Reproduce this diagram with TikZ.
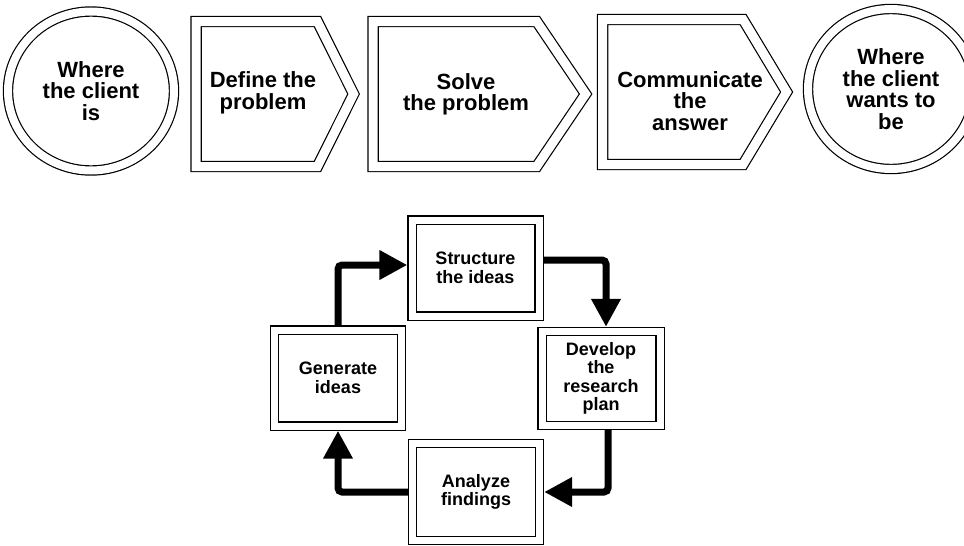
\documentclass[tikz,border=0pt]{standalone}
\usepackage{fontspec}
\setmainfont{Liberation Sans}
\usetikzlibrary{arrows.meta,shapes.geometric,shapes.symbols}

\begin{document}
\begin{tikzpicture}[
  x=1pt,
  y=-1pt,
  >={Triangle[length=28pt,width=28pt]},
  bigtext/.style={font=\fontsize{22}{21.5}\selectfont\bfseries,align=center,inner sep=0pt},
  smalltext/.style={font=\fontsize{18}{18.5}\selectfont\bfseries,align=center},
  client/.style={draw,ellipse,double,double distance=8pt,line width=1.2pt,inner sep=0pt},
  stage/.style={draw,signal,signal to=east,double,double distance=9pt,line width=1.2pt,inner sep=0pt,minimum height=145pt,anchor=west},
  task/.style={draw,rectangle,double,double distance=7pt,line width=1.2pt,minimum width=127pt,minimum height=96pt,outer sep=4.7pt,smalltext},
  flow/.style={->,line width=7pt,rounded corners=4pt}
]
\useasboundingbox (0,0) rectangle (964,546);

% Top row
\node[client,minimum width=166pt,minimum height=159pt,bigtext] (start) at (91,91) {Where\\the client\\is};

\node[stage,minimum width=157.5pt,signal pointer angle=127] (define) at (195.5,94) {};
\node[bigtext] (define-text) at (263,93) {Define the\\problem};

\node[stage,minimum width=212.5pt,signal pointer angle=112] (solve) at (372.5,94) {};
\node[bigtext] (solve-text) at (466,94.5) {Solve\\the problem};

\node[stage,minimum width=184pt,signal pointer angle=118] (answer) at (602,92) {};
\node[bigtext] (answer-text) at (690,101) {Communicate\\the\\answer};

\node[client,minimum width=166pt,minimum height=160pt,bigtext] (goal) at (891,89) {Where\\the client\\wants to\\be};

% Cycle
\node[task] (structure) at (475.5,268) {Structure\\the ideas};
\node[task] (generate) at (338,378) {Generate\\ideas};
\node[task,minimum width=118pt,minimum height=94pt] (develop) at (601,378.5) {Develop\\the\\research\\plan};
\node[task,minimum height=97pt] (analyze) at (476,492) {Analyze\\findings};

\draw[flow] (generate.north) |- ([yshift=3pt]structure.west);
\draw[flow] ([yshift=8pt]structure.east) -| ([xshift=5pt]develop.north);
\draw[flow] ([xshift=7pt]develop.south) |- (analyze.east);
\draw[flow] (analyze.west) -| (generate.south);
\end{tikzpicture}
\end{document}
